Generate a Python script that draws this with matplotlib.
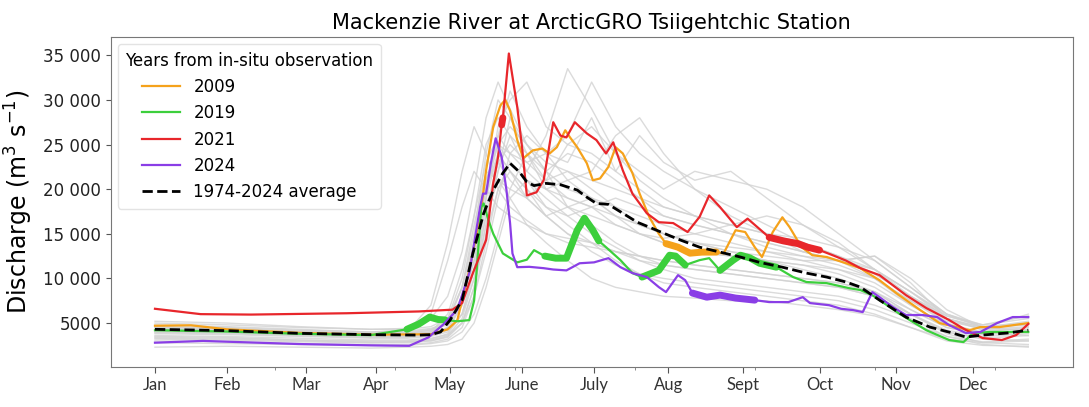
import numpy as np
import matplotlib.pyplot as plt
from matplotlib.ticker import FuncFormatter, FixedLocator

# === Data (day of year, discharge in m3/s) ===
month_names = ["Jan", "Feb", "Mar", "Apr", "May", "June", "July", "Aug", "Sept", "Oct", "Nov", "Dec"]
month_days = [0, 30, 63, 92, 123, 153, 183, 214, 245, 277, 309, 341]

# gray lines: other years, sampled on a common day grid (values in thousands)
gray_days = [0, 30, 60, 90, 105, 115, 122, 128, 133, 138, 143, 148, 155, 163, 172,
             182, 192, 202, 212, 225, 240, 255, 270, 285, 300, 315, 330, 345, 364]
gray_years = [
    [4.6, 4.4, 4.0, 3.8, 3.8, 4.0, 5.0, 9, 15, 24, 30, 28, 24, 21, 22, 20, 18, 16, 15, 14, 13, 12, 11.5, 10.5, 9, 6.5, 4.5, 3.8, 4.2],
    [5.2, 5.0, 4.6, 4.3, 4.4, 5.5, 8, 13, 20, 28, 32, 29, 25, 22, 24, 23, 21, 19, 17, 16, 15, 14, 13, 12, 10, 7.5, 5.2, 4.4, 5.0],
    [3.5, 3.4, 3.1, 2.9, 2.9, 3.0, 3.5, 5, 9, 16, 22, 26, 24, 20, 18, 17, 16, 15, 14, 13, 12.5, 12, 11, 10, 8.5, 6, 4, 3.3, 3.6],
    [4.0, 3.9, 3.6, 3.4, 3.5, 4, 6, 11, 17, 23, 26, 24, 22, 26, 33.5, 29, 24, 21, 19, 17, 15, 13.5, 12.5, 11.5, 10, 7, 4.8, 4.0, 4.5],
    [4.3, 4.1, 3.8, 3.5, 3.6, 3.8, 4.5, 7, 12, 19, 26, 31, 27, 24, 26, 32, 27, 24, 22, 20, 17, 15, 13, 12, 10.5, 8, 5.5, 4.5, 5.2],
    [2.3, 2.4, 2.3, 2.2, 2.3, 2.4, 2.6, 3.2, 5, 9, 14, 19, 21, 19, 17, 15, 13.5, 12, 11, 10, 9.5, 9, 8.5, 8, 7, 5.5, 3.5, 2.6, 2.3],
    [4.8, 4.6, 4.3, 4.0, 4.2, 6, 12, 18, 22, 20, 18, 17, 16, 15, 14.5, 14, 13, 12.5, 12, 11.5, 11, 10.5, 10, 9.5, 8.5, 6, 4.2, 3.5, 3.8],
    [3.0, 2.9, 2.7, 2.6, 2.6, 2.8, 3.2, 4.5, 8, 14, 20, 23, 21, 18, 16, 14, 12, 10.5, 9.5, 9, 8.5, 8, 7.5, 7, 6, 4.5, 3.0, 2.5, 2.4],
    [4.4, 4.2, 3.9, 3.7, 3.8, 4.2, 5.5, 10, 17, 25, 28, 26, 22, 20, 21, 22, 26, 28, 24, 20, 18, 16, 14, 12.5, 10.5, 8, 5.8, 4.8, 5.8],
    [3.8, 3.7, 3.5, 3.3, 3.3, 3.5, 4, 6, 11, 18, 23, 21, 19, 17, 18, 19, 17, 15, 14, 13, 12.5, 12, 11.5, 11, 10, 7.5, 5, 3.9, 3.6],
    [4.1, 4.0, 3.7, 3.5, 3.5, 3.7, 4.2, 7, 13, 20, 25, 27, 25, 23, 22, 21, 20, 19, 18, 17, 16, 15, 14, 12.5, 11, 8.5, 6, 4.8, 5.5],
    [3.3, 3.2, 3.0, 2.8, 2.9, 3.1, 3.6, 5.5, 10, 17, 21, 19, 16, 14, 12, 10, 9, 8.5, 8, 7.8, 7.5, 7.5, 7, 6.5, 5.8, 4.5, 3.2, 2.8, 3.0],
    [4.6, 4.5, 4.2, 4.0, 4.1, 4.4, 5, 7.5, 12, 19, 27, 30, 32, 27, 25, 27, 24, 22, 20, 22, 21, 20, 18, 15, 12, 9, 6, 4.5, 4.8],
    [3.6, 3.5, 3.3, 3.1, 3.1, 3.3, 3.7, 5, 8, 13, 19, 24, 26, 24, 21, 19, 17, 16, 15, 14, 13.5, 13, 12, 11, 9.5, 7, 4.8, 3.8, 4.0],
    [5.0, 4.8, 4.5, 4.3, 4.3, 4.6, 5.5, 9, 14, 20, 24, 22, 20, 18, 17, 18, 19, 18, 17, 16, 15, 14, 13, 12, 11, 8, 5.5, 4.5, 6.0],
    [2.8, 2.7, 2.6, 2.5, 2.5, 2.7, 3, 4, 6, 10, 15, 20, 24, 22, 18, 16, 14, 12.5, 11.5, 11, 10.5, 10, 9.5, 9, 8, 6, 3.8, 2.8, 2.6],
    [4.2, 4.1, 3.9, 3.6, 3.7, 4, 5, 9, 16, 22, 21, 20, 19, 21, 25, 24, 22, 20, 18, 17, 16, 15, 14.5, 13.5, 12, 9, 6, 4.6, 4.8],
    [3.9, 3.8, 3.6, 3.4, 3.4, 3.6, 4.2, 6, 10, 16, 22, 28, 25, 22, 20, 19, 18, 17, 16, 15, 14, 13, 12.5, 12, 12.5, 9.5, 5.5, 4.2, 4.3],
    [4.5, 4.3, 4.0, 3.8, 3.9, 4.2, 4.8, 7, 11, 17, 23, 25, 23, 21, 19, 18, 16, 15, 14.5, 15, 16, 17, 16, 14, 11, 8.5, 5.5, 4.3, 4.6],
    [3.2, 3.1, 2.9, 2.8, 2.8, 3.0, 3.4, 5, 9, 15, 20, 22, 20, 17, 15, 13, 11.5, 10.5, 10, 9.5, 9, 8.5, 8, 7.5, 6.5, 5, 3.5, 2.9, 3.2],
    [4.0, 3.9, 3.7, 3.5, 3.6, 3.8, 4.5, 8, 14, 21, 25, 23, 21, 20, 19, 18, 17, 16, 15, 14, 13, 12.5, 12, 12, 12.5, 10, 6.5, 4.5, 4.2],
    [4.3, 4.2, 4.0, 3.8, 4.0, 7, 14, 22, 27, 24, 20, 18, 16.5, 15, 14, 13.5, 13, 12.5, 12, 11.5, 11, 10.5, 10, 9.5, 8.5, 6.5, 4.5, 3.7, 4.0],
    [4.5, 4.4, 4.1, 3.9, 4.0, 4.3, 5, 8, 13, 21, 25, 24, 23, 24, 23, 28, 22, 26, 23, 21, 22, 19, 16, 13.5, 11, 8.5, 5.8, 4.6, 5.0],
    [3.4, 3.3, 3.1, 3.0, 3.0, 3.2, 3.8, 6, 11, 19, 24, 22, 19, 17, 15, 14, 13, 12, 11.5, 11, 10.5, 10, 9.5, 9, 8, 6, 4, 3.2, 3.0],
]

days_2009 = [0, 15, 30, 60, 90, 115, 122, 126, 131, 135.5, 138, 141, 144, 146, 148, 151, 153.5, 157.5,
             161.5, 164.5, 167.5, 171, 173, 176, 180, 182.5, 185.5, 189, 192, 195, 199, 202, 206, 210,
             213, 218, 223, 228, 234, 237, 242, 246, 250, 253, 257.5, 261.5, 264.5, 269.5, 274, 280,
             288, 294, 296.5, 302, 309, 319, 327, 334, 339.5, 344, 352, 364]
q_2009 = [4700, 4750, 4300, 3900, 3700, 3750, 4300, 5300, 10900, 16900, 22100, 27000, 29400, 30000,
          28800, 25500, 23450, 24350, 24550, 24000, 24700, 26600, 25800, 24700, 22900, 21000, 21200,
          22500, 24700, 24000, 21800, 19500, 16900, 15000, 13900, 13500, 12830, 12950, 12950, 12800,
          15400, 15200, 13500, 12400, 15200, 16850, 15750, 13500, 12600, 12400, 11700, 11150, 10700,
          9800, 8350, 6450, 5000, 4550, 4200, 4550, 4550, 5000]

days_2019 = [0, 30, 60, 90, 105, 110, 114.5, 118, 121, 126, 131, 133, 134, 136, 137, 139, 141, 145,
             151, 155, 158, 162.5, 167, 171.5, 176, 179, 182.5, 185, 188, 194, 199, 203, 210, 214.5,
             217, 221, 227, 231, 235.5, 241, 244, 248, 252, 259, 266, 271.5, 280, 289.5, 294, 299,
             310, 321.5, 331, 337, 341, 348, 364]
q_2019 = [4200, 4050, 3800, 3650, 4300, 4900, 5670, 5400, 5350, 5200, 5330, 7500, 10600, 18000,
          18400, 16500, 15000, 12800, 11800, 12100, 13170, 12500, 12270, 12270, 15400, 16750, 15400,
          14200, 13500, 12050, 10600, 10150, 10900, 12600, 12500, 11500, 12050, 12270, 10900, 12050,
          12600, 12300, 11700, 11260, 10150, 9600, 9470, 8900, 8700, 8130, 6100, 4200, 3100, 2870,
          3880, 4000, 4000]

days_2021 = [0, 19, 40, 80, 110, 124, 128, 132.5, 138, 141, 143, 144.5, 145, 147.5, 151, 153, 155, 159,
             162, 166, 169, 171.5, 175, 180, 184, 188, 191, 195, 199, 205, 210, 216, 222, 227, 231,
             235.5, 242.5, 247, 256, 262, 268, 272, 277, 282.5, 288, 294, 302, 313, 321.5, 331, 338,
             345, 353, 359, 364]
q_2021 = [6600, 6000, 5950, 6100, 6300, 6500, 7240, 10600, 14300, 20700, 23600, 27200, 28000, 35200,
          29200, 24700, 19300, 19650, 21000, 27500, 26000, 25800, 27500, 26250, 25500, 24000, 25250,
          22100, 19500, 17300, 16300, 16200, 15200, 16900, 19300, 18000, 15750, 16700, 14600, 14200,
          13900, 13500, 13170, 12600, 12000, 11150, 10370, 8130, 6680, 5340, 4220, 3320, 3100, 3660,
          4900]

days_2024 = [0, 20, 60, 90, 106, 114, 120, 126, 131, 135.5, 136.7, 138, 140, 142, 144.5, 146.5, 148,
             149, 151, 156, 162, 166, 171.5, 177, 183, 189, 194, 199, 205, 210, 213, 218, 221, 224,
             230, 235.5, 242, 250, 256, 264, 270, 273, 281, 286, 291, 295, 299, 302, 307.5, 313, 320,
             326, 331, 338, 344, 351, 357.5, 364]
q_2024 = [2800, 3000, 2650, 2500, 2450, 3400, 4800, 6500, 10600, 18000, 19500, 19500, 22900, 25700,
          23600, 19900, 16200, 12800, 11260, 11300, 11150, 11000, 10900, 11700, 11800, 12270, 11260,
          10600, 10150, 9030, 8470, 10370, 9800, 8360, 7900, 8130, 7800, 7570, 7350, 7350, 7900, 7240,
          7000, 6600, 6450, 6230, 8470, 7900, 6800, 5900, 5900, 5670, 4780, 3880, 4000, 5000, 5670, 5670]

days_avg = [0, 30, 60, 90, 110, 115, 119, 123, 128, 132.5, 137, 141, 145, 148, 152, 155, 158, 163, 169,
            176, 180, 184, 189, 195, 201, 206, 212, 219, 227, 235.5, 244, 252, 261.5, 271.5, 280, 288,
            294, 302, 313, 323, 332.5, 338, 345, 355, 364]
q_avg = [4300, 4150, 3850, 3700, 3650, 3700, 4000, 5330, 7570, 12800, 17300, 19900, 21800, 22900, 21900,
         20800, 20400, 20650, 20500, 19900, 19100, 18400, 18300, 17300, 16300, 15750, 15070, 14300,
         13500, 12950, 12400, 11800, 11260, 10600, 10150, 9600, 9030, 7570, 5670, 4550, 3880, 3430,
         3660, 3880, 4200]

# periods covered by satellite-derived estimates (drawn thicker)
thick_2009 = [(213, 234)]
thick_2019 = [(105, 121), (162.5, 185), (203, 221), (235.5, 259)]
thick_2021 = [(144.5, 145), (256, 277)]
thick_2024 = [(224, 250)]

series = [
    ("2009", days_2009, q_2009, thick_2009, "#f5a21b"),
    ("2019", days_2019, q_2019, thick_2019, "#3ccf3c"),
    ("2021", days_2021, q_2021, thick_2021, "#e8262b"),
    ("2024", days_2024, q_2024, thick_2024, "#8a3ee6"),
]


def fmt_thousands(v, pos):
    v = int(round(v))
    if v >= 10000:
        return f"{v // 1000} {v % 1000:03d}"
    return str(v)


fig = plt.figure(figsize=(10.89, 4.07), dpi=100)
ax = fig.add_axes([0.102, 0.099, 0.883, 0.809])

for g in gray_years:
    ax.plot(gray_days, np.array(g) * 1000, color="#d2d2d2", lw=1.0, alpha=0.8, zorder=1)

for label, d, q, thick, col in series:
    d = np.array(d)
    q = np.array(q)
    ax.plot(d, q, color=col, lw=1.6, label=label, zorder=3)
    for a, b in thick:
        m = (d >= a) & (d <= b)
        ax.plot(d[m], q[m], color=col, lw=5, solid_capstyle="round", zorder=3)

ax.plot(days_avg, q_avg, color="black", ls="--", lw=2, label="1974-2024 average", zorder=4)

ax.set_xlim(-18.3, 382.5)
ax.set_ylim(110, 37000)

ax.xaxis.set_major_locator(FixedLocator(month_days))
ax.set_xticklabels(month_names, fontsize=12, family="Lato", color="#333333")
ax.xaxis.set_minor_locator(FixedLocator(np.arange(0, 351, 50)))
ax.tick_params(axis="x", which="major", length=4, color="#555555")
ax.tick_params(axis="x", which="minor", length=2, color="#777777")

ax.set_yticks([5000, 10000, 15000, 20000, 25000, 30000, 35000])
ax.yaxis.set_major_formatter(FuncFormatter(fmt_thousands))
ax.tick_params(axis="y", labelsize=12, color="#555555", labelcolor="#222222")

for s in ax.spines.values():
    s.set_color("#777777")

ax.set_ylabel("Discharge (m$^3$ s$^{-1}$)", fontsize=17, labelpad=6)
ax.set_title("Mackenzie River at ArcticGRO Tsiigehtchic Station", fontsize=15)

leg = ax.legend(title="Years from in-situ observation", loc="upper left", fontsize=12,
                title_fontsize=12, handlelength=2.3, borderpad=0.45, labelspacing=0.5,
                borderaxespad=0.4)
leg.get_frame().set_edgecolor("#dddddd")

fig.savefig("out.png", dpi=100)
